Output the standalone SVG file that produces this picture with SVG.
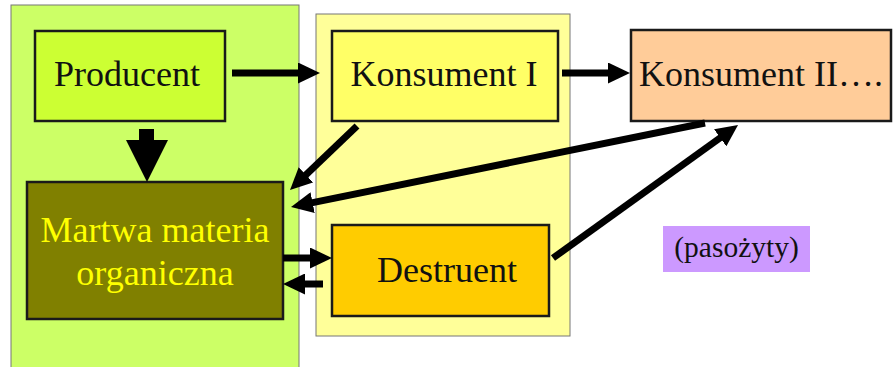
<svg xmlns="http://www.w3.org/2000/svg" width="896" height="367" viewBox="0 0 896 367">
<style>
.box{stroke:#1a1a1a;stroke-width:2.5}
.panel{stroke:#777;stroke-width:1}
.t{font-family:"Liberation Serif","Times New Roman",serif;font-size:36px;text-anchor:middle;fill:#111}
.c{stroke:#000;stroke-width:7;fill:none;marker-end:url(#ah)}
</style>
<defs>
<marker id="ah" viewBox="0 0 22 21" markerWidth="22" markerHeight="21" markerUnits="userSpaceOnUse" refX="10" refY="10.5" orient="auto">
<path d="M0,0 L22,10.5 L0,21 z" fill="#000"/>
</marker>
</defs>
<rect width="896" height="367" fill="#fff"/>
<g id="panel-green"><rect class="panel" x="11" y="5" width="288" height="370" fill="#ccff66"/></g>
<g id="panel-yellow"><rect class="panel" x="316" y="14" width="254" height="322" fill="#ffff99"/></g>
<g id="producent"><rect class="box" x="35" y="31" width="190" height="90" fill="#ccff33"/><text class="t" x="127" y="86">Producent</text></g>
<g id="martwa"><rect class="box" x="27" y="182" width="256" height="137" fill="#808000"/><text class="t" x="155" y="242" style="fill:#ffff00">Martwa materia</text><text class="t" x="155" y="285" style="fill:#ffff00">organiczna</text></g>
<g id="konsument1"><rect class="box" x="332" y="31" width="226" height="90" fill="#ffff66"/><text class="t" x="444" y="86">Konsument I</text></g>
<g id="destruent"><rect class="box" x="332" y="225" width="217" height="91" fill="#ffcc00"/><text class="t" x="447" y="282">Destruent</text></g>
<g id="konsument2"><rect class="box" x="631" y="30" width="260" height="91" fill="#ffcc99"/><text class="t" x="761" y="86">Konsument II….</text></g>
<g id="pasozyty"><rect x="663" y="226" width="147" height="46" fill="#cc99ff"/><text class="t" x="736.5" y="257" style="font-size:29.5px">(pasożyty)</text></g>
<g id="connectors">
<polygon points="139,129 154,129 154,140 168,140 147,182 126,140 139,140" fill="#000"/>
<line class="c" x1="232" y1="73" x2="308" y2="73"/>
<line class="c" x1="562" y1="73" x2="618" y2="73"/>
<line class="c" x1="357" y1="126" x2="298.7" y2="181.7"/>
<line class="c" x1="705" y1="123" x2="302.8" y2="204.6"/>
<line class="c" x1="553" y1="258" x2="728.3" y2="132"/>
<line class="c" x1="283" y1="258" x2="320" y2="258"/>
<line class="c" x1="323" y1="284" x2="295" y2="284"/>
</g>
</svg>
